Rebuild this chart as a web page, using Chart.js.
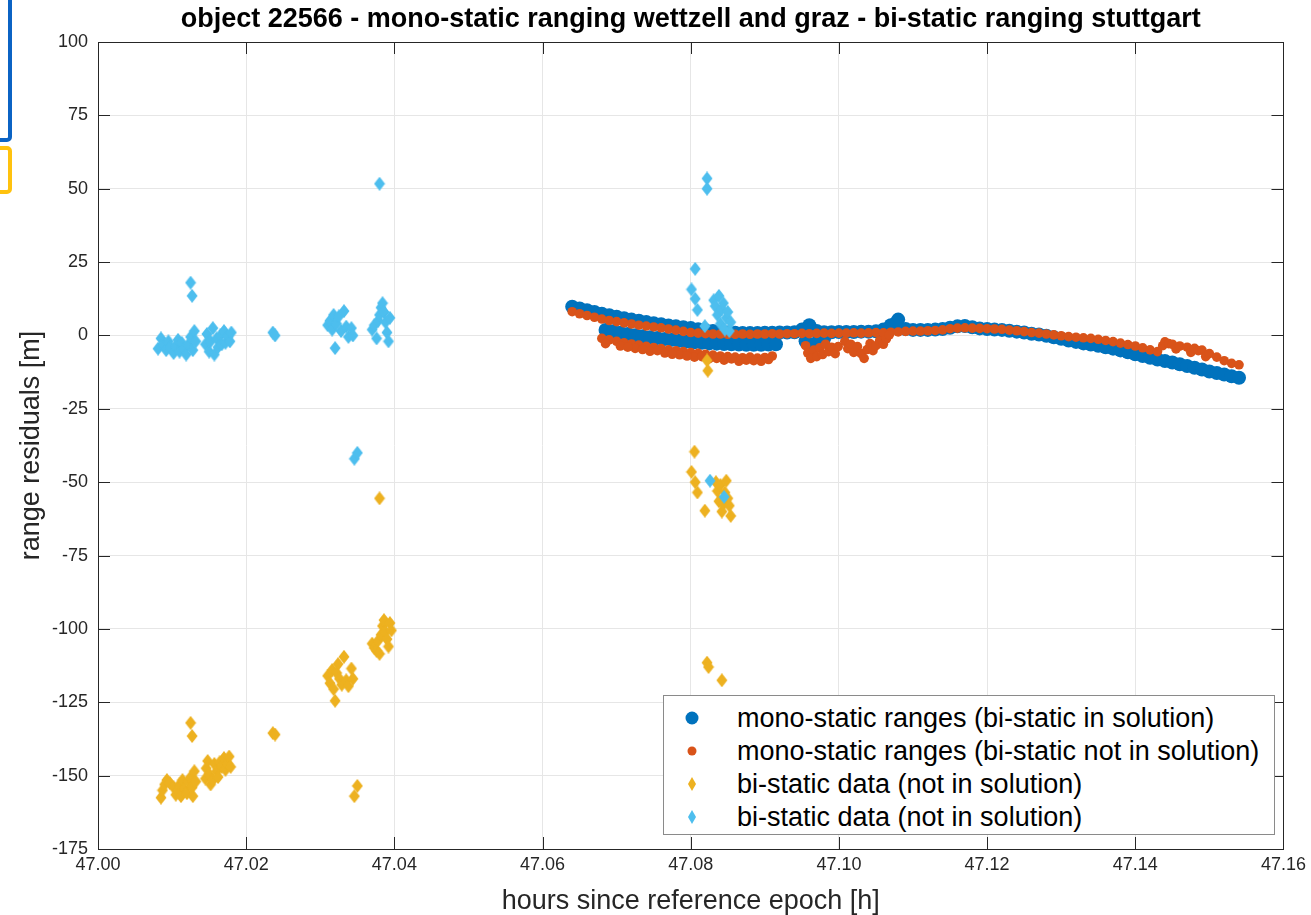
<!DOCTYPE html>
<html>
<head>
<meta charset="utf-8">
<script src="https://cdn.jsdelivr.net/npm/chart.js@4.4.1/dist/chart.umd.min.js"></script>
<style>
  body { margin: 0; background: #fff; overflow: hidden; font-family: "Liberation Sans", Arial, sans-serif; }
  #wrap { position: relative; width: 1311px; height: 915px; }
  canvas { position: absolute; left: 0; top: 0; }
  .edge { position: absolute; left: -20px; width: 24px; border-radius: 5px; }
  .edge.blue { top: -6px; height: 140px; border: 4px solid #0b63c4; }
  .edge.yellow { top: 146px; height: 40px; border: 4px solid #ffc20e; }
  #legend {
    position: absolute; left: 663px; top: 695px; width: 612px; height: 140px;
    background: #fff; border: 1px solid #8a8a8a; box-sizing: border-box;
    color: #000; font-size: 27px;
  }
  #legend .row { position: absolute; left: 0; height: 30px; line-height: 30px; white-space: nowrap; }
  #legend svg { position: absolute; left: 16px; top: 3px; }
  #legend span { position: absolute; left: 73px; }
</style>
</head>
<body>
<div id="wrap">
  <canvas id="chart" width="1311" height="915"></canvas>
  <div class="edge blue"></div>
  <div class="edge yellow"></div>
  <div id="legend">
    <div class="row" style="top:7px"><svg width="24" height="24"><circle cx="12" cy="12" r="6.5" fill="#0072BD"/></svg><span>mono-static ranges (bi-static in solution)</span></div>
    <div class="row" style="top:40px"><svg width="24" height="24"><circle cx="12" cy="12" r="4.5" fill="#D95319"/></svg><span>mono-static ranges (bi-static not in solution)</span></div>
    <div class="row" style="top:73px"><svg width="24" height="24"><polygon points="12,5 16,12 12,19 8,12" fill="#EDB120"/></svg><span>bi-static data (not in solution)</span></div>
    <div class="row" style="top:106px"><svg width="24" height="24"><polygon points="12,5 16,12 12,19 8,12" fill="#4DBEEE"/></svg><span>bi-static data (not in solution)</span></div>
  </div>
</div>
<script>
// residuals, [hours, metres]
const monoInSolution = [
  [47.064,9.8],[47.065,9.2],[47.066,8.6],[47.067,8.0],[47.068,7.4],[47.069,6.9],[47.070,6.4],[47.071,5.9],[47.072,5.4],[47.073,5.0],
  [47.074,4.6],[47.075,4.2],[47.076,3.8],[47.077,3.4],[47.078,3.1],[47.079,2.8],[47.080,2.5],[47.081,2.1],[47.082,1.8],[47.083,1.5],
  [47.084,1.2],[47.085,1.0],[47.086,0.9],[47.087,0.8],[47.088,0.8],[47.089,0.8],[47.090,0.9],[47.091,0.9],[47.092,1.0],[47.093,1.0],
  [47.094,1.1],[47.095,2.0],[47.096,3.5],[47.097,1.5],[47.098,1.1],[47.099,1.1],[47.100,1.2],[47.101,1.2],[47.102,1.2],[47.103,1.3],
  [47.104,1.3],[47.105,1.4],[47.106,2.0],[47.107,3.5],[47.108,5.4],[47.109,2.2],[47.110,1.9],[47.111,1.9],[47.112,1.9],[47.113,2.0],
  [47.114,2.2],[47.115,2.6],[47.116,3.1],[47.117,3.2],[47.118,2.8],[47.119,2.4],[47.120,2.2],[47.121,2.0],[47.122,1.9],[47.123,1.6],
  [47.124,1.3],[47.125,1.0],[47.126,0.6],[47.127,0.3],[47.128,-0.1],[47.129,-0.6],[47.130,-1.1],[47.131,-1.7],[47.132,-2.2],[47.133,-2.7],
  [47.134,-3.1],[47.135,-3.5],[47.136,-4.0],[47.137,-4.5],[47.138,-5.1],[47.139,-5.7],[47.140,-6.4],[47.141,-7.0],[47.142,-7.6],[47.143,-8.2],
  [47.144,-8.7],[47.145,-9.2],[47.146,-9.8],[47.147,-10.4],[47.148,-11.0],[47.149,-11.6],[47.150,-12.3],[47.151,-12.8],[47.152,-13.3],[47.153,-13.9],
  [47.154,-14.4],
  // lower branch
  [47.0685,1.9],[47.0695,1.4],[47.0705,0.9],[47.0715,0.5],[47.0725,0.1],[47.0735,-0.3],[47.0745,-0.6],[47.0755,-0.9],[47.0765,-1.2],[47.0775,-1.5],
  [47.0785,-1.8],[47.0795,-2.1],[47.0805,-2.3],[47.0815,-2.5],[47.0825,-2.7],[47.0835,-2.8],[47.0845,-2.9],[47.0855,-3.0],[47.0865,-3.1],[47.0875,-3.2],
  [47.0885,-3.2],[47.0895,-3.2],[47.0905,-3.1],[47.0915,-3.0],
  [47.0955,-2.0],[47.0962,-3.5],[47.0970,-2.5],[47.0980,-1.0],[47.1060,0.5],[47.1065,2.0],[47.1072,3.2],[47.1077,4.3]
];

const monoNotInSolution = [
  [47.064,8.1],[47.065,7.4],[47.066,6.8],[47.067,6.2],[47.068,5.6],[47.069,5.1],[47.070,4.7],[47.071,4.3],[47.072,3.9],[47.073,3.5],
  [47.074,3.2],[47.075,2.9],[47.076,2.6],[47.077,2.2],[47.078,1.8],[47.079,1.4],[47.080,1.0],[47.081,0.8],[47.082,0.6],[47.083,0.5],
  [47.084,0.5],[47.085,0.4],[47.086,0.4],[47.087,0.5],[47.088,0.4],[47.089,0.5],[47.090,0.5],[47.091,0.6],[47.092,0.5],[47.093,0.6],
  [47.094,0.6],[47.095,0.7],[47.096,0.6],[47.097,0.7],[47.098,0.8],[47.099,0.7],[47.100,0.8],[47.101,0.8],[47.102,0.9],[47.103,0.8],
  [47.104,0.9],[47.105,1.0],[47.106,0.9],[47.107,1.1],[47.108,1.2],[47.109,1.4],[47.110,1.5],[47.111,1.5],[47.112,1.6],[47.113,1.7],
  [47.114,1.9],[47.115,2.3],[47.116,2.5],[47.117,2.6],[47.118,2.5],[47.119,2.4],[47.120,2.3],[47.121,2.2],[47.122,2.1],[47.123,1.8],
  [47.124,1.6],[47.125,1.3],[47.126,1.0],[47.127,0.8],[47.128,0.5],[47.129,0.2],[47.130,-0.1],[47.131,-0.4],[47.132,-0.6],[47.133,-0.8],
  [47.134,-1.0],[47.135,-1.3],[47.136,-1.7],[47.137,-2.1],[47.138,-2.6],[47.139,-3.1],[47.140,-3.6],[47.141,-4.2],[47.142,-4.9],[47.143,-5.5],
  [47.1437,-3.5],[47.144,-2.2],[47.1445,-2.8],[47.145,-3.0],[47.1455,-4.6],[47.146,-3.6],[47.147,-4.0],[47.1475,-5.8],[47.148,-4.4],[47.1485,-5.2],
  [47.149,-5.0],[47.1495,-7.2],[47.150,-6.2],[47.151,-7.4],[47.152,-8.6],[47.153,-9.5],[47.154,-10.0],
  // lower band
  [47.068,-1.0],[47.069,-1.5],[47.070,-2.0],[47.071,-2.5],[47.072,-2.9],[47.073,-3.3],[47.074,-3.7],[47.075,-4.1],[47.076,-4.5],[47.077,-4.9],
  [47.078,-5.2],[47.079,-5.5],[47.080,-5.8],[47.081,-6.1],[47.082,-6.4],[47.083,-6.7],[47.084,-7.0],[47.085,-7.2],[47.086,-7.4],[47.087,-7.6],
  [47.088,-7.4],[47.089,-7.7],[47.090,-7.5],[47.091,-7.0],
  [47.0685,-2.8],[47.0705,-3.6],[47.0725,-4.4],[47.0745,-5.4],[47.0765,-6.0],[47.0785,-6.6],[47.0805,-7.4],[47.0825,-7.9],[47.0845,-8.4],[47.0865,-8.8],
  [47.0885,-8.6],[47.0905,-8.2],
  [47.0715,-4.0],[47.0735,-4.8],[47.0755,-5.2],[47.0775,-6.4],[47.0795,-7.0],[47.0815,-7.2],[47.0835,-7.8],[47.0855,-8.0],[47.0875,-8.4],[47.0895,-8.8],
  [47.0955,-3.5],[47.0958,-6.0],[47.0962,-7.8],[47.0966,-5.0],[47.0970,-7.2],[47.0974,-4.2],[47.0978,-6.5],[47.0982,-3.0],[47.0986,-5.5],[47.0990,-4.0],
  [47.0995,-6.2],[47.0999,-3.8],
  [47.1008,-2.0],[47.1012,-4.5],[47.1016,-3.0],[47.1020,-5.8],[47.1025,-3.8],[47.1030,-6.2],[47.1034,-7.8],[47.1038,-4.8],[47.1042,-2.8],[47.1046,-5.2],
  [47.1050,-3.5],[47.1055,-1.8],[47.1060,-3.0],[47.1064,-1.2],[47.1068,0.2]
];

const biStaticYellow = [
  [47.0085,-157.5],[47.0087,-155],[47.0090,-153],[47.0093,-151.5],[47.0097,-152.5],[47.0102,-154],[47.0105,-156.5],[47.0108,-155],[47.0110,-153],[47.0112,-157],
  [47.0114,-151.5],[47.0117,-154.5],[47.0120,-156],[47.0122,-152],[47.0125,-150.5],[47.0127,-154],[47.0130,-148.5],[47.0132,-152],[47.0128,-157],
  [47.0125,-132],[47.0127,-136.5],
  [47.0145,-151],[47.0146,-147.5],[47.0148,-145],[47.0150,-149.5],[47.0152,-153],[47.0155,-151.5],[47.0157,-146],[47.0160,-148.5],[47.0162,-150.5],[47.0164,-145.5],
  [47.0167,-147],[47.0170,-144],[47.0172,-148],[47.0175,-146],[47.0177,-143.5],[47.0179,-147],
  [47.0236,-135.5],[47.0239,-136],
  [47.0310,-116],[47.0313,-118.5],[47.0316,-114],[47.0318,-120.5],[47.0320,-124.5],[47.0322,-115],[47.0324,-112],[47.0326,-117],[47.0329,-119],[47.0332,-109.5],
  [47.0335,-117.5],[47.0338,-119.5],[47.0342,-113.5],[47.0344,-117],
  [47.0346,-157],[47.0350,-153.5],
  [47.0370,-105],[47.0373,-106.5],[47.0376,-107.5],[47.0378,-104],[47.0380,-108.5],[47.0382,-102],[47.0384,-99],[47.0386,-97],[47.0388,-101],[47.0390,-103.5],
  [47.0392,-106],[47.0394,-98],[47.0396,-100.5],[47.0380,-55.5],
  [47.0801,-46.5],[47.0805,-39.6],[47.0806,-50],[47.0809,-53.5],[47.0819,-59.7],[47.0822,-8.5],[47.0823,-12],[47.0834,-50],[47.0836,-53],[47.0838,-56.5],
  [47.0840,-51],[47.0842,-60],[47.0844,-57.5],[47.0846,-53.5],[47.0848,-49.5],[47.0850,-55.5],[47.0852,-58],[47.0854,-61.5],
  [47.0822,-111.5],[47.0824,-113],[47.0842,-117.5]
];

const biStaticCyan = [
  [47.0081,-4.5],[47.0085,-1],[47.0088,-3],[47.0092,-5],[47.0095,-2],[47.0098,-4],[47.0102,-6],[47.0105,-3.5],[47.0108,-1.5],[47.0110,-5.5],
  [47.0113,-2.5],[47.0116,-4.5],[47.0119,-6.5],[47.0122,-3],[47.0125,-0.5],[47.0128,-5],[47.0130,1.5],[47.0132,-2],
  [47.0125,18],[47.0127,13.5],
  [47.0145,-3],[47.0147,0.5],[47.0150,-5.5],[47.0152,-2],[47.0155,2.5],[47.0157,-6.5],[47.0160,-1],[47.0162,-4],[47.0165,0],[47.0167,-3],
  [47.0170,1.5],[47.0172,-2.5],[47.0175,-0.5],[47.0178,-2],[47.0180,1],
  [47.0236,1],[47.0239,0],
  [47.0310,3.5],[47.0313,5],[47.0316,2],[47.0318,7],[47.0320,-4.3],[47.0322,4],[47.0325,6.5],[47.0328,1.5],[47.0332,8.3],[47.0335,3],
  [47.0338,-0.5],[47.0342,2.5],[47.0344,0],
  [47.0346,-42],[47.0350,-40],
  [47.0370,2],[47.0373,3.5],[47.0376,-1],[47.0378,5],[47.0380,7],[47.0382,9.5],[47.0384,11],[47.0386,8],[47.0388,4.5],[47.0390,1],
  [47.0392,-2],[47.0394,6],[47.0380,51.7],
  [47.0822,53.5],[47.0822,50],[47.0806,22.7],[47.0801,15.7],[47.0806,12.5],[47.0809,8.7],[47.0819,3.2],[47.0831,12],[47.0833,10],[47.0836,7],
  [47.0838,13.5],[47.0840,4],[47.0842,9],[47.0844,11],[47.0846,2],[47.0848,6],[47.0850,8],[47.0852,1.5],[47.0854,4.5],
  [47.0826,-49.5],[47.0845,-55]
];

const xTicks = [47.00, 47.02, 47.04, 47.06, 47.08, 47.10, 47.12, 47.14, 47.16];
const yTicks = [-175, -150, -125, -100, -75, -50, -25, 0, 25, 50, 75, 100];

const titleText = 'object 22566 - mono-static ranging wettzell and graz - bi-static ranging stuttgart';

// tall matlab-like diamond marker
function diamond(color) {
  const c = document.createElement('canvas');
  c.width = 12; c.height = 14;
  const g = c.getContext('2d');
  g.fillStyle = color;
  g.beginPath();
  g.moveTo(6, 0); g.lineTo(11.5, 7); g.lineTo(6, 14); g.lineTo(0.5, 7);
  g.closePath();
  g.fill();
  return c;
}

const toXY = arr => arr.map(p => ({ x: p[0], y: p[1] }));

// title centred on plot area + box with inward ticks
const matlabAxes = {
  id: 'matlabAxes',
  beforeDatasetsDraw(chart) {
    const { ctx, chartArea: a, scales } = chart;
    ctx.save();
    ctx.strokeStyle = '#262626';
    ctx.lineWidth = 1;
    ctx.beginPath();
    const tl = 12;
    xTicks.forEach(v => {
      const px = Math.round(scales.x.getPixelForValue(v)) + 0.5;
      ctx.moveTo(px, a.bottom); ctx.lineTo(px, a.bottom - tl);
      ctx.moveTo(px, a.top); ctx.lineTo(px, a.top + tl);
    });
    yTicks.forEach(v => {
      const py = Math.round(scales.y.getPixelForValue(v)) + 0.5;
      ctx.moveTo(a.left, py); ctx.lineTo(a.left + tl, py);
      ctx.moveTo(a.right, py); ctx.lineTo(a.right - tl, py);
    });
    ctx.stroke();
    ctx.strokeRect(Math.round(a.left) + 0.5, Math.round(a.top) + 0.5, Math.round(a.right - a.left), Math.round(a.bottom - a.top));
    ctx.restore();
  },
  afterDraw(chart) {
    const { ctx, chartArea: a } = chart;
    ctx.save();
    ctx.font = 'bold 27px "Liberation Sans", Arial, sans-serif';
    ctx.fillStyle = '#000';
    ctx.textAlign = 'center';
    ctx.textBaseline = 'middle';
    ctx.fillText(titleText, (a.left + a.right) / 2, 20);
    ctx.restore();
  }
};

const ctx = document.getElementById('chart').getContext('2d');

new Chart(ctx, {
  type: 'scatter',
  data: {
    datasets: [
      {
        label: 'mono-static ranges (bi-static in solution)',
        data: toXY(monoInSolution),
        backgroundColor: '#0072BD',
        borderWidth: 0,
        pointRadius: 7,
        order: 4
      },
      {
        label: 'mono-static ranges (bi-static not in solution)',
        data: toXY(monoNotInSolution),
        backgroundColor: '#D95319',
        borderWidth: 0,
        pointRadius: 4.8,
        order: 3
      },
      {
        label: 'bi-static data (not in solution)',
        data: toXY(biStaticYellow),
        pointStyle: diamond('#EDB120'),
        order: 2
      },
      {
        label: 'bi-static data (not in solution)',
        data: toXY(biStaticCyan),
        pointStyle: diamond('#4DBEEE'),
        order: 1
      }
    ]
  },
  options: {
    responsive: false,
    animation: false,
    devicePixelRatio: 1,
    layout: { padding: { left: 0, right: 24, top: 42, bottom: 0 } },
    plugins: {
      legend: { display: false },
      title: { display: false },
      tooltip: { enabled: false }
    },
    scales: {
      x: {
        type: 'linear',
        min: 47.00,
        max: 47.16,
        afterBuildTicks: scale => { scale.ticks = xTicks.map(v => ({ value: v })); },
        afterFit: scale => { scale.height = 66; },
        ticks: {
          autoSkip: false,
          maxRotation: 0,
          padding: 5,
          color: '#262626',
          font: { family: '"Liberation Sans", Arial, sans-serif', size: 18 },
          callback: v => v.toFixed(2)
        },
        grid: { color: '#e6e6e6', drawTicks: false },
        border: { display: false },
        title: {
          display: true,
          text: 'hours since reference epoch [h]',
          color: '#262626',
          font: { family: '"Liberation Sans", Arial, sans-serif', size: 27, lineHeight: 1 },
          padding: { top: 0, bottom: 0 }
        }
      },
      y: {
        type: 'linear',
        min: -175,
        max: 100,
        afterBuildTicks: scale => { scale.ticks = yTicks.map(v => ({ value: v })); },
        afterFit: scale => { scale.width = 98; },
        ticks: {
          padding: 10,
          color: '#262626',
          font: { family: '"Liberation Sans", Arial, sans-serif', size: 18 }
        },
        grid: { color: '#e6e6e6', drawTicks: false },
        border: { display: false },
        title: {
          display: true,
          text: 'range residuals [m]',
          color: '#262626',
          font: { family: '"Liberation Sans", Arial, sans-serif', size: 27, lineHeight: 1 },
          padding: { top: 18, bottom: 0 }
        }
      }
    }
  },
  plugins: [matlabAxes]
});
</script>
</body>
</html>
